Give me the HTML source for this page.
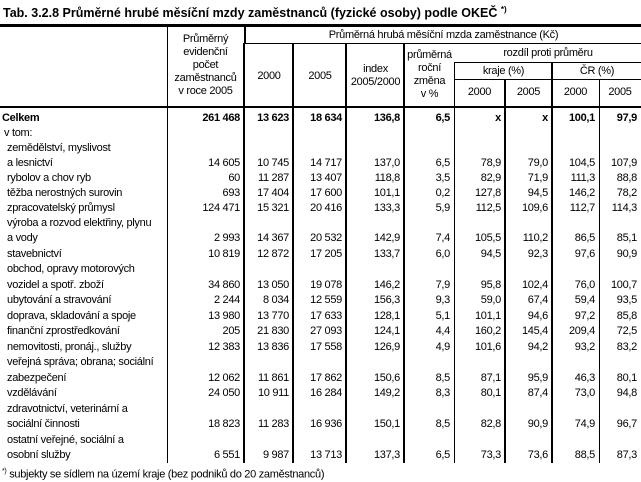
<!DOCTYPE html>
<html><head><meta charset="utf-8">
<style>
body{margin:0;width:641px;height:481px;background:#fff;position:relative;overflow:hidden;font-family:"Liberation Sans",Arial,sans-serif;font-size:11px;color:#000}
.t{position:absolute;white-space:nowrap;line-height:13px;letter-spacing:-0.3px}
.r{text-align:right}
.c{text-align:center}
.l{position:absolute;background:#000}
</style></head><body>
<div class="t" style="left:3px;top:3px;font-size:12.5px;font-weight:bold;letter-spacing:0">Tab. 3.2.8 Průměrné hrubé měsíční mzdy zaměstnanců (fyzické osoby) podle OKEČ <sup style="font-size:8px">*)</sup></div>
<div id="tbl"></div>
<div class="t" style="left:2px;top:465px"><sup style="font-size:7px">*)</sup> subjekty se sídlem na území kraje (bez podniků do 20 zaměstnanců)</div>
<script>
const labels=["Celkem","v tom:","zemědělství, myslivost","a lesnictví","rybolov a chov ryb","těžba nerostných surovin","zpracovatelský průmysl","výroba a rozvod elektřiny, plynu","a vody","stavebnictví","obchod, opravy motorových","vozidel a spotř. zboží","ubytování a stravování","doprava, skladování a spoje","finanční zprostředkování","nemovitosti, pronáj., služby","veřejná správa; obrana; sociální","zabezpečení","vzdělávání","zdravotnictví, veterinární a","sociální činnosti","ostatní veřejné, sociální a","osobní služby"];
const values=[
["261 468","13 623","18 634","136,8","6,5","x","x","100,1","97,9"],null,null,
["14 605","10 745","14 717","137,0","6,5","78,9","79,0","104,5","107,9"],
["60","11 287","13 407","118,8","3,5","82,9","71,9","111,3","88,8"],
["693","17 404","17 600","101,1","0,2","127,8","94,5","146,2","78,2"],
["124 471","15 321","20 416","133,3","5,9","112,5","109,6","112,7","114,3"],null,
["2 993","14 367","20 532","142,9","7,4","105,5","110,2","86,5","85,1"],
["10 819","12 872","17 205","133,7","6,0","94,5","92,3","97,6","90,9"],null,
["34 860","13 050","19 078","146,2","7,9","95,8","102,4","76,0","100,7"],
["2 244","8 034","12 559","156,3","9,3","59,0","67,4","59,4","93,5"],
["13 980","13 770","17 633","128,1","5,1","101,1","94,6","97,2","85,8"],
["205","21 830","27 093","124,1","4,4","160,2","145,4","209,4","72,5"],
["12 383","13 836","17 558","126,9","4,9","101,6","94,2","93,2","83,2"],null,
["12 062","11 861","17 862","150,6","8,5","87,1","95,9","46,3","80,1"],
["24 050","10 911","16 284","149,2","8,3","80,1","87,4","73,0","94,8"],null,
["18 823","11 283","16 936","150,1","8,5","82,8","90,9","74,9","96,7"],null,
["6 551","9 987","13 713","137,3","6,5","73,3","73,6","88,5","87,3"]];
const T=document.getElementById('tbl');
const cols=[167,244,293,346,404,454,505,552,599,641];
const rowY=[112,127,142,157,172,187,202,217,232,248,263,279,294,310,325,341,356,372,387,403,418,434,449];
function line(x,y,w,h,n){const d=document.createElement('div');d.className='l';d.style.cssText=`left:${x}px;top:${y}px;width:${w}px;height:${h}px`;


T.appendChild(d);}
function txt(s,x,y,w,cls,n,extra){const d=document.createElement('div');d.className='t '+cls;d.style.cssText=`left:${x}px;top:${y}px;width:${w}px;`+(extra||'');d.innerHTML=s;


T.appendChild(d);}
line(0,24,641,3,'top-border');
line(0,106,641,2,'header-bottom-border');
line(244,43,397,1,'header-line-1');
line(454,62,187,1,'header-line-2');
line(454,79,187,1,'header-line-3');
const thick=[false,true,true,true,true,false,true,true,false];
for(let i=0;i<9;i++){const x=cols[i];const top=(i==6?79:(i==5?62:(i==8?79:(i==7?62:(i>=1?43:27)))));
line(thick[i]?x-1:x,i==0?27:top,thick[i]?2:1,463-(i==0?27:top),'column-divider');}
line(244,27,2,17,'column-divider-top');
txt('Průměrný<br>evidenční<br>počet<br>zaměstnanců<br>v roce 2005',167,33,77,'c','header-employees');
txt('Průměrná hrubá měsíční mzda zaměstnance (Kč)',246,29,395,'c','header-wage');
txt('2000',245,70,48,'c','header-2000');
txt('2005',294,70,52,'c','header-2005');
txt('index<br>2005/2000',347,63,57,'c','header-index');
txt('průměrná<br>roční<br>změna<br>v %',405,49,49,'c','header-change');
txt('rozdíl proti průměru',455,47,186,'c','header-difference');
txt('kraje (%)',455,65,97,'c','header-region');
txt('ČR (%)',553,65,88,'c','header-cr');
['2000','2005','2000','2005'].forEach((s,k)=>txt(s,cols[5+k],86,cols[6+k]-cols[5+k],'c','header-sub-year'));
labels.forEach((lb,i)=>{const y=rowY[i];
txt(lb,i==0?2:(i==1?4:7),y,160,'', i==0?'total-label':'row-label',i==0?'font-weight:bold;':'');
const v=values[i];if(v){v.forEach((s,k)=>txt(s,cols[k],y,cols[k+1]-cols[k]-4,'r',i==0?'total-value':'cell-value',i==0?'font-weight:bold;':''));}
});
</script>
</body></html>
